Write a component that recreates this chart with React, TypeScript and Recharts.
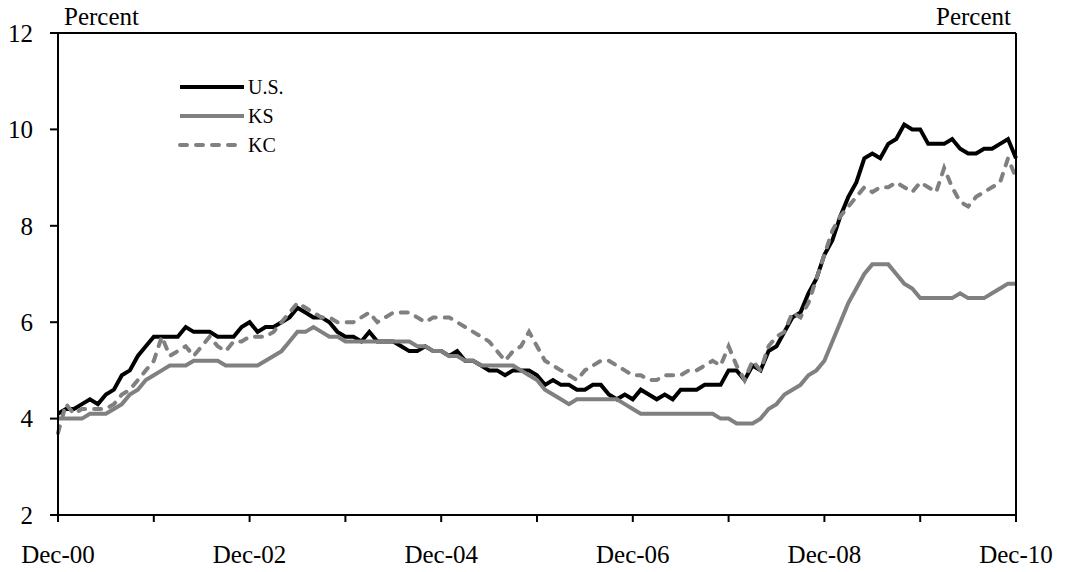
import React from 'react';
import { LineChart, Line, XAxis, YAxis, ReferenceLine } from 'recharts';

// Months since Dec-2000 (0 = Dec-00 ... 120 = Dec-10)
const monthIndex: number[] = Array.from({ length: 121 }, (_, i) => i);

const usRate: number[] = [
  4.1, 4.2, 4.2, 4.3, 4.4, 4.3, 4.5, 4.6, 4.9, 5.0, 5.3, 5.5, 5.7,
  5.7, 5.7, 5.7, 5.9, 5.8, 5.8, 5.8, 5.7, 5.7, 5.7, 5.9, 6.0,
  5.8, 5.9, 5.9, 6.0, 6.1, 6.3, 6.2, 6.1, 6.1, 6.0, 5.8, 5.7,
  5.7, 5.6, 5.8, 5.6, 5.6, 5.6, 5.5, 5.4, 5.4, 5.5, 5.4, 5.4,
  5.3, 5.4, 5.2, 5.2, 5.1, 5.0, 5.0, 4.9, 5.0, 5.0, 5.0, 4.9,
  4.7, 4.8, 4.7, 4.7, 4.6, 4.6, 4.7, 4.7, 4.5, 4.4, 4.5, 4.4,
  4.6, 4.5, 4.4, 4.5, 4.4, 4.6, 4.6, 4.6, 4.7, 4.7, 4.7, 5.0,
  5.0, 4.8, 5.1, 5.0, 5.4, 5.5, 5.8, 6.1, 6.2, 6.6, 6.9, 7.4,
  7.7, 8.2, 8.6, 8.9, 9.4, 9.5, 9.4, 9.7, 9.8, 10.1, 10.0, 10.0,
  9.7, 9.7, 9.7, 9.8, 9.6, 9.5, 9.5, 9.6, 9.6, 9.7, 9.8, 9.4,
];

const ksRate: number[] = [
  4.0, 4.0, 4.0, 4.0, 4.1, 4.1, 4.1, 4.2, 4.3, 4.5, 4.6, 4.8, 4.9,
  5.0, 5.1, 5.1, 5.1, 5.2, 5.2, 5.2, 5.2, 5.1, 5.1, 5.1, 5.1,
  5.1, 5.2, 5.3, 5.4, 5.6, 5.8, 5.8, 5.9, 5.8, 5.7, 5.7, 5.6,
  5.6, 5.6, 5.6, 5.6, 5.6, 5.6, 5.6, 5.6, 5.5, 5.5, 5.4, 5.4,
  5.3, 5.3, 5.2, 5.2, 5.1, 5.1, 5.1, 5.1, 5.1, 5.0, 4.9, 4.8,
  4.6, 4.5, 4.4, 4.3, 4.4, 4.4, 4.4, 4.4, 4.4, 4.4, 4.3, 4.2,
  4.1, 4.1, 4.1, 4.1, 4.1, 4.1, 4.1, 4.1, 4.1, 4.1, 4.0, 4.0,
  3.9, 3.9, 3.9, 4.0, 4.2, 4.3, 4.5, 4.6, 4.7, 4.9, 5.0, 5.2,
  5.6, 6.0, 6.4, 6.7, 7.0, 7.2, 7.2, 7.2, 7.0, 6.8, 6.7, 6.5,
  6.5, 6.5, 6.5, 6.5, 6.6, 6.5, 6.5, 6.5, 6.6, 6.7, 6.8, 6.8,
];

const kcRate: number[] = [
  3.7, 4.3, 4.1, 4.2, 4.2, 4.2, 4.2, 4.3, 4.5, 4.6, 4.8, 5.0, 5.2,
  5.7, 5.3, 5.4, 5.5, 5.3, 5.5, 5.7, 5.5, 5.4, 5.6, 5.6, 5.7,
  5.7, 5.7, 5.8, 6.0, 6.2, 6.4, 6.3, 6.2, 6.1, 6.1, 6.0, 6.0,
  6.0, 6.1, 6.2, 6.0, 6.1, 6.2, 6.2, 6.2, 6.1, 6.0, 6.1, 6.1,
  6.1, 6.0, 5.9, 5.8, 5.7, 5.6, 5.4, 5.2, 5.4, 5.5, 5.8, 5.5,
  5.2, 5.1, 5.0, 4.9, 4.8, 5.0, 5.1, 5.2, 5.2, 5.1, 5.0, 4.9,
  4.9, 4.8, 4.8, 4.9, 4.9, 4.9, 5.0, 5.0, 5.1, 5.2, 5.1, 5.5,
  5.1, 4.8, 5.2, 5.0, 5.5, 5.7, 5.8, 6.2, 6.1, 6.4, 6.9, 7.4,
  7.9, 8.2, 8.4, 8.6, 8.8, 8.7, 8.8, 8.8, 8.9, 8.8, 8.7, 8.9,
  8.8, 8.7, 9.2, 8.8, 8.5, 8.4, 8.6, 8.7, 8.8, 8.9, 9.4, 9.0,
];

const xTicks: number[] = [0, 12, 24, 36, 48, 60, 72, 84, 96, 108, 120];
const xTickLabels: string[] = ['Dec-00', '', 'Dec-02', '', 'Dec-04', '', 'Dec-06', '', 'Dec-08', '', 'Dec-10'];
const yTicks: number[] = [2, 4, 6, 8, 10, 12];

const seriesNames: string[] = ['U.S.', 'KS', 'KC'];

const data = monthIndex.map((m, i) => ({ m, us: usRate[i], ks: ksRate[i], kc: kcRate[i] }));

const FONT = '"Liberation Serif", "Times New Roman", serif';
const GRAY = '#808080';

const series = [
  { key: 'us', name: seriesNames[0], color: '#000000', dash: undefined as string | undefined, cap: 'butt' },
  { key: 'ks', name: seriesNames[1], color: GRAY, dash: undefined as string | undefined, cap: 'butt' },
  { key: 'kc', name: seriesNames[2], color: GRAY, dash: '7 9', cap: 'round' },
];

const tickStyle = { fill: '#000', fontSize: 25, fontFamily: FONT };
const axisLine = { stroke: '#000', strokeWidth: 2 };

export default function App() {
  return (
    <div style={{ position: 'absolute', left: 0, top: 0, width: 1069, height: 572, background: '#fff' }}>
      <LineChart width={1069} height={572} data={data} margin={{ top: 33, right: 0, bottom: 0, left: 0 }}>
        <XAxis
          dataKey="m"
          type="number"
          domain={[0, 120]}
          ticks={xTicks}
          interval={0}
          tickFormatter={(v: number) => xTickLabels[xTicks.indexOf(v)] ?? ''}
          height={57}
          tickSize={7}
          tickMargin={23}
          tick={tickStyle}
          axisLine={axisLine}
          tickLine={axisLine}
        />
        <YAxis
          yAxisId="left"
          domain={[2, 12]}
          ticks={yTicks}
          interval={0}
          width={58}
          tickSize={8}
          tickMargin={17}
          tick={tickStyle}
          axisLine={axisLine}
          tickLine={axisLine}
        />
        <YAxis
          yAxisId="right"
          orientation="right"
          domain={[2, 12]}
          ticks={yTicks}
          interval={0}
          width={53}
          tickSize={7}
          tickMargin={15}
          tick={tickStyle}
          axisLine={axisLine}
          tickLine={axisLine}
        />
        <ReferenceLine yAxisId="left" y={12} stroke="#000" strokeWidth={2} />
        {series.map((s) => (
          <Line
            key={s.key}
            yAxisId="left"
            type="linear"
            dataKey={s.key}
            name={s.name}
            stroke={s.color}
            strokeWidth={4}
            strokeDasharray={s.dash}
            strokeLinecap={s.cap as any}
            dot={false}
            activeDot={false}
            isAnimationActive={false}
          />
        ))}
      </LineChart>
      <svg
        width={1069}
        height={572}
        style={{ position: 'absolute', left: 0, top: 0, pointerEvents: 'none' }}
      >
        <text x={64} y={25} fontSize={25} fontFamily={FONT} fill="#000">Percent</text>
        <text x={1011} y={25} fontSize={25} fontFamily={FONT} fill="#000" textAnchor="end">Percent</text>
        {series.map((s, i) => (
          <g key={s.key}>
            <line
              x1={180}
              x2={244}
              y1={87 + i * 29}
              y2={87 + i * 29}
              stroke={s.color}
              strokeWidth={4}
              strokeDasharray={s.dash}
              strokeLinecap={s.cap as any}
            />
            <text x={248} y={87 + i * 29 + 7} fontSize={20} fontFamily={FONT} fill="#000">{s.name}</text>
          </g>
        ))}
      </svg>
    </div>
  );
}
